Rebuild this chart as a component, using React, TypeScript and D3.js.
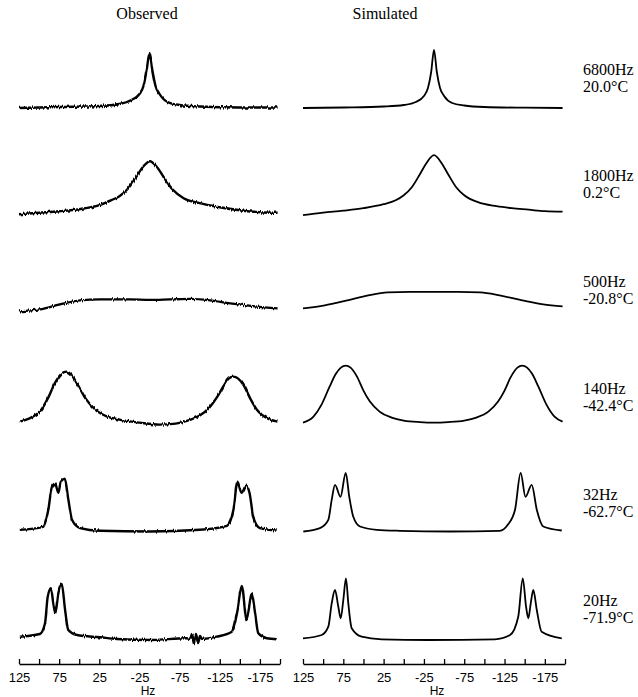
import React, { useEffect, useRef } from "react";
import * as d3 from "d3";

// rows, top to bottom
const rowIds = ["r6800", "r1800", "r500", "r140", "r32", "r20"];
const rateLabels = ["6800Hz", "1800Hz", "500Hz", "140Hz", "32Hz", "20Hz"];
const tempLabels = ["20.0°C", "0.2°C", "-20.8°C", "-42.4°C", "-62.7°C", "-71.9°C"];

// axis ticks (Hz)
const minorTicks = [125, 100, 75, 50, 25, 0, -25, -50, -75, -100, -125, -150, -175, -200];
const tickLabels = [125, 75, 25, -25, -75, -125, -175];

// [Hz, intensity]
const obs6800 = [[125, 0], [75, 1], [25, 2], [0, 4], [-15, 8], [-25, 14], [-30, 22], [-34, 38], [-37.5, 55], [-41, 38], [-45, 22], [-50, 14], [-60, 6], [-75, 3], [-100, 1.5], [-150, 0.5], [-197, 0.5]];
const sim6800 = [[125, 0], [75, 0.5], [25, 1.5], [0, 3], [-15, 6], [-25, 12], [-30, 20], [-34, 36], [-37.5, 58], [-41, 36], [-45, 20], [-50, 12], [-60, 5], [-75, 2.5], [-100, 1], [-150, 0.3], [-197, 0]];

const obs1800 = [[125, 0], [100, 1.5], [75, 3], [50, 5], [25, 9], [10, 14], [0, 18], [-10, 25], [-20, 36], [-30, 48], [-38, 53], [-46, 48], [-56, 36], [-66, 25], [-80, 16], [-100, 11], [-125, 7], [-150, 4], [-175, 2], [-197, 1.5]];
const sim1800 = [[125, -1], [100, 1.5], [75, 3.5], [50, 6], [25, 10], [10, 14], [0, 19], [-10, 27], [-20, 40], [-28, 51], [-37.5, 59], [-47, 51], [-55, 40], [-65, 27], [-75, 19], [-92, 12], [-115, 8], [-134, 6], [-155, 4.5], [-175, 3], [-197, 2.5]];

const obs500 = [[125, 9], [99, 11], [74, 16], [49, 20], [24, 21], [-13, 21], [-38, 20.5], [-63, 21], [-88, 21.5], [-113, 20], [-138, 17], [-169, 14], [-197, 12]];
const sim500 = [[125, 12], [98, 15], [70, 20], [44, 25], [20, 28], [-8, 28.5], [-37.5, 28.5], [-67, 28.5], [-95, 28], [-119, 25], [-147, 20], [-173, 16], [-197, 14]];

const obs140 = [[124, 5], [110, 9], [98, 16], [88, 30], [80, 44], [72, 53], [66, 55], [60, 52], [52, 42], [42, 28], [30, 17], [15, 10], [0, 7], [-25, 4], [-50, 2], [-70, 3], [-85, 6], [-100, 11], [-112, 19], [-122, 30], [-130, 41], [-136, 48], [-142, 50], [-148, 48], [-155, 41], [-163, 28], [-172, 16], [-185, 8], [-197, 5]];
const sim140 = [[125, 4], [112, 10], [102, 22], [92, 40], [84, 53], [78, 59], [72, 61], [66, 59], [58, 50], [50, 36], [42, 25], [30, 15], [15, 9], [0, 6], [-20, 4.5], [-37.5, 4], [-55, 4.5], [-75, 6], [-90, 9], [-105, 15], [-117, 25], [-125, 36], [-133, 50], [-141, 59], [-147, 61], [-153, 59], [-159, 53], [-167, 40], [-177, 22], [-187, 10], [-197, 5]];

const obs32 = [[124, 3], [95, 6], [88.5, 23], [84, 46], [80, 49], [76, 40], [73, 51], [68, 54], [63.5, 33], [59, 13], [49, 4.7], [24, 2], [-38, 1.3], [-100, 3], [-134, 7], [-142, 23], [-147, 51], [-152, 40], [-158, 47], [-162, 40], [-167, 15], [-175, 4.7], [-196, 2.3]];
const sim32 = [[124.6, 1.3], [104, 4.7], [93.6, 13], [89.4, 33], [85.3, 48], [78.5, 36], [72, 60], [67.6, 36], [62.6, 16], [54.3, 6.3], [33.6, 3], [4.7, 2], [-57, 1.3], [-119, 2], [-129, 8], [-138, 23], [-145, 60], [-151, 36], [-158.7, 48], [-165, 23], [-173, 6.3], [-196, 2.3]];

const obs20 = [[124, 2.3], [99, 5], [92.6, 15.7], [89.3, 42], [85.2, 50.7], [82.3, 35.7], [79.8, 25.7], [76, 45.7], [71.8, 55], [67.6, 29], [63.6, 9], [53, 4], [24, 1.7], [3, 0], [-38, -1], [-84, 0.7], [-88, 0], [-90.4, 5], [-93, -4], [-95.4, 5], [-98, -4], [-100.4, 3], [-103, 0], [-121, 2.3], [-140, 7.3], [-147, 29], [-152.3, 53], [-158.6, 19], [-164.8, 46.3], [-169, 25.7], [-173, 5.7], [-183.5, 0.7], [-196, -0.3]];
const sim20 = [[125, 0.7], [101.8, 4], [93.6, 12.3], [89.4, 35.7], [85.3, 49], [81.2, 32.3], [78.2, 20.7], [75, 39], [71.7, 60.7], [68.8, 35.7], [64.6, 10.7], [52.2, 2.3], [27.4, -0.3], [-30.5, -1], [-113, -0.3], [-131.8, 4], [-142, 22.3], [-147.6, 60.7], [-151.7, 32.3], [-154.5, 20.7], [-157.5, 35.7], [-160.7, 49], [-165, 29], [-171, 7.3], [-196, 0.7]];

const observed = [obs6800, obs1800, obs500, obs140, obs32, obs20];
const simulated = [sim6800, sim1800, sim500, sim140, sim32, sim20];

const W = 638;
const H = 697;
const axisY = 664;

const xLeft = d3.scaleLinear().domain([125, -200]).range([19, 280]);
const xRight = d3.scaleLinear().domain([125, -200]).range([303, 565]);
const rowY = d3.scalePoint<string>().domain(rowIds).range([108, 639]);

function spectrumPath(data: number[][], x: d3.ScaleLinear<number, number>, base: number) {
  const y = d3.scaleLinear().domain([0, 60]).range([base, base - 60]);
  return d3
    .line<number[]>()
    .x((d) => x(d[0]))
    .y((d) => y(d[1]))
    .curve(d3.curveMonotoneX)(data) as string;
}

const App = () => {
  const axisRef = useRef<SVGGElement>(null);

  useEffect(() => {
    const g = d3.select(axisRef.current);
    g.selectAll("*").remove();
    [xLeft, xRight].forEach((x) => {
      const axis = d3
        .axisBottom(x)
        .tickValues(minorTicks)
        .tickSizeInner(-5)
        .tickSizeOuter(0)
        .tickPadding(9)
        .tickFormat((d) => (tickLabels.includes(d as number) ? String(d) : ""));
      const a = g.append("g").attr("transform", `translate(0,${axisY})`).call(axis);
      a.selectAll("path,line").attr("stroke", "#000").attr("stroke-width", 1.3);
      a.selectAll("text")
        .attr("font-family", "'Liberation Sans', Arial, sans-serif")
        .attr("font-size", 13)
        .attr("fill", "#000");
    });
  }, []);

  const serif = "'Liberation Serif', 'Times New Roman', serif";
  const sans = "'Liberation Sans', Arial, sans-serif";

  return (
    <svg width={W} height={H} style={{ position: "absolute", left: 0, top: 0, background: "#fff" }}>
      <defs>
        <filter id="noisy" filterUnits="userSpaceOnUse" x="0" y="0" width={W} height={H}>
          <feTurbulence type="fractalNoise" baseFrequency="0.9 0.03" numOctaves={2} seed={3} result="turb" />
          <feColorMatrix
            in="turb"
            type="matrix"
            values="0 0 0 0 0.5  0 1 0 0 0  0 0 0 0 0  0 0 0 0 1"
            result="disp"
          />
          <feDisplacementMap in="SourceGraphic" in2="disp" scale={4} xChannelSelector="R" yChannelSelector="G" />
        </filter>
      </defs>

      <text x={147} y={19} textAnchor="middle" fontFamily={serif} fontSize={16}>
        Observed
      </text>
      <text x={385} y={19} textAnchor="middle" fontFamily={serif} fontSize={16}>
        Simulated
      </text>

      {rowIds.map((id, i) => {
        const base = rowY(id) as number;
        return (
          <g key={id}>
            <path
              d={spectrumPath(observed[i], xLeft, base)}
              fill="none"
              stroke="#000"
              strokeWidth={2.4}
              filter="url(#noisy)"
            />
            <path d={spectrumPath(simulated[i], xRight, base)} fill="none" stroke="#000" strokeWidth={1.8} />
            <text x={583} y={base - 33} fontFamily={serif} fontSize={16}>
              {rateLabels[i]}
            </text>
            <text x={583} y={base - 16} fontFamily={serif} fontSize={16}>
              {tempLabels[i]}
            </text>
          </g>
        );
      })}

      <g ref={axisRef} />
      <text x={148} y={695} textAnchor="middle" fontFamily={sans} fontSize={12}>
        Hz
      </text>
      <text x={437} y={695} textAnchor="middle" fontFamily={sans} fontSize={12}>
        Hz
      </text>
    </svg>
  );
};

export default App;
